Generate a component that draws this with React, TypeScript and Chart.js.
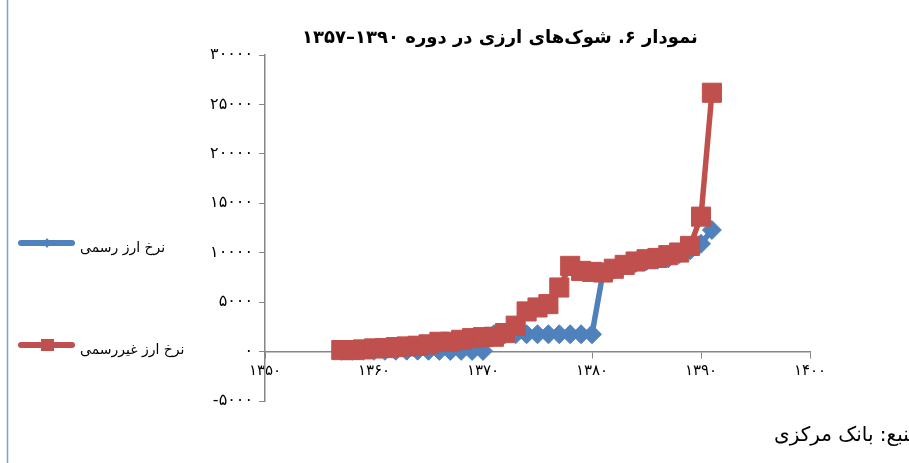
import { useEffect, useRef } from "react";
import { Chart, registerables } from "chart.js";

Chart.register(...registerables);

// ---- data ----
const years = [
  1357, 1358, 1359, 1360, 1361, 1362, 1363, 1364, 1365, 1366, 1367, 1368,
  1369, 1370, 1371, 1372, 1373, 1374, 1375, 1376, 1377, 1378, 1379, 1380,
  1381, 1382, 1383, 1384, 1385, 1386, 1387, 1388, 1389, 1390, 1391,
];
const officialRate = [
  71, 71, 71, 78, 84, 86, 90, 91, 79, 72, 69, 72, 68, 67, 1750, 1750, 1750,
  1750, 1750, 1750, 1750, 1750, 1750, 1750, 7950, 8280, 8720, 8960, 9170,
  9280, 9430, 9860, 10250, 10900, 12300,
];
const unofficialRate = [
  150, 150, 220, 320, 350, 450, 520, 590, 730, 990, 990, 1190, 1360, 1460,
  1500, 1870, 2620, 4060, 4460, 4800, 6480, 8670, 8160, 8060, 8000, 8380,
  8770, 9110, 9340, 9470, 9750, 10020, 10690, 13650, 26180,
];
const seriesLabels = ["نرخ ارز رسمی", "نرخ ارز غیررسمی"];
const xTickValues = [1350, 1360, 1370, 1380, 1390, 1400];
const xTickLabels = ["۱۳۵۰", "۱۳۶۰", "۱۳۷۰", "۱۳۸۰", "۱۳۹۰", "۱۴۰۰"];
const yTickValues = [-5000, 0, 5000, 10000, 15000, 20000, 25000, 30000];
const yTickLabels = ["-۵۰۰۰", "۰", "۵۰۰۰", "۱۰۰۰۰", "۱۵۰۰۰", "۲۰۰۰۰", "۲۵۰۰۰", "۳۰۰۰۰"];
const titleText = "نمودار ۶. شوک‌های ارزی در دوره ۱۳۹۰–۱۳۵۷";
const sourceText = "منبع: بانک مرکزی";

const BLUE = "#4f81bd";
const RED = "#c0504d";
const AXIS = "#868686";
const FONT = '"DejaVu Sans", sans-serif';

const decorPlugin = {
  id: "decor",
  afterDraw(chart: any) {
    const ctx = chart.ctx as CanvasRenderingContext2D;
    ctx.save();
    // frame line at left
    ctx.strokeStyle = "#7ea0d2";
    ctx.lineWidth = 1.5;
    ctx.beginPath();
    ctx.moveTo(7.5, 0);
    ctx.lineTo(7.5, 463);
    ctx.stroke();

    // title
    ctx.fillStyle = "#000";
    ctx.font = `bold 18px ${FONT}`;
    ctx.textAlign = "center";
    ctx.textBaseline = "middle";
    ctx.fillText(titleText, 500, 38);

    // legend
    const items = [
      { label: seriesLabels[0], color: BLUE, y: 243, style: "diamond" },
      { label: seriesLabels[1], color: RED, y: 345, style: "square" },
    ];
    items.forEach((it) => {
      ctx.strokeStyle = it.color;
      ctx.lineWidth = 6;
      ctx.lineCap = "round";
      ctx.beginPath();
      ctx.moveTo(21, it.y);
      ctx.lineTo(72, it.y);
      ctx.stroke();
      ctx.fillStyle = it.color;
      ctx.beginPath();
      if (it.style === "diamond") {
        ctx.moveTo(47, it.y - 5);
        ctx.lineTo(51, it.y);
        ctx.lineTo(47, it.y + 5);
        ctx.lineTo(43, it.y);
        ctx.closePath();
      } else {
        ctx.rect(41, it.y - 6, 13, 12);
      }
      ctx.fill();
      ctx.fillStyle = "#000";
      ctx.font = `14px ${FONT}`;
      ctx.textAlign = "left";
      ctx.textBaseline = "middle";
      ctx.fillText(it.label, 80, it.y + 5);
    });

    // source
    ctx.font = `20px ${FONT}`;
    ctx.textAlign = "right";
    ctx.textBaseline = "middle";
    ctx.fillText(sourceText, 920, 436);
    ctx.restore();
  },
};

export default function App() {
  const ref = useRef<HTMLCanvasElement | null>(null);

  useEffect(() => {
    if (!ref.current) return;
    const chart = new Chart(ref.current, {
      type: "line",
      data: {
        datasets: [
          {
            label: seriesLabels[0],
            data: years.map((y, i) => ({ x: y, y: officialRate[i] })),
            borderColor: BLUE,
            backgroundColor: BLUE,
            borderWidth: 5.5,
            pointStyle: "rectRot",
            pointRadius: 9.5,
            pointBorderWidth: 1,
            pointBackgroundColor: BLUE,
            pointBorderColor: BLUE,
            borderJoinStyle: "round",
            borderCapStyle: "round",
            tension: 0,
            order: 2,
          },
          {
            label: seriesLabels[1],
            data: years.map((y, i) => ({ x: y, y: unofficialRate[i] })),
            borderColor: RED,
            backgroundColor: RED,
            borderWidth: 5.5,
            pointStyle: "rect",
            pointRadius: 13.5,
            pointBorderWidth: 1,
            pointBackgroundColor: RED,
            pointBorderColor: RED,
            borderJoinStyle: "round",
            borderCapStyle: "round",
            tension: 0,
            order: 1,
          },
        ],
      },
      options: {
        animation: false,
        responsive: false,
        events: [],
        layout: { padding: { left: 0, right: 99, top: 55, bottom: 62 } },
        plugins: {
          legend: { display: false },
          title: { display: false },
          tooltip: { enabled: false },
        },
        scales: {
          x: {
            type: "linear",
            min: 1350,
            max: 1400,
            position: { y: 0 },
            afterBuildTicks: (s: any) => {
              s.ticks = xTickValues.map((v) => ({ value: v }));
            },
            ticks: {
              autoSkip: false,
              maxRotation: 0,
              padding: 5,
              color: "#000",
              font: { family: FONT, size: 15 },
              callback: (v: any) => xTickLabels[xTickValues.indexOf(Number(v))],
            },
            grid: {
              drawOnChartArea: false,
              drawTicks: true,
              tickLength: 6,
              color: AXIS,
              lineWidth: 1,
            },
            border: { color: AXIS, width: 1.5 },
          },
          y: {
            type: "linear",
            min: -5000,
            max: 30000,
            afterBuildTicks: (s: any) => {
              s.ticks = yTickValues.map((v) => ({ value: v }));
            },
            afterFit: (s: any) => {
              s.width = 265;
            },
            ticks: {
              autoSkip: false,
              padding: 6,
              color: "#000",
              font: { family: FONT, size: 16 },
              callback: (v: any) => yTickLabels[yTickValues.indexOf(Number(v))],
            },
            grid: {
              drawOnChartArea: false,
              drawTicks: true,
              tickLength: 6,
              color: AXIS,
              lineWidth: 1,
            },
            border: { color: AXIS, width: 1.5 },
          },
        },
      },
      plugins: [decorPlugin],
    } as any);
    return () => chart.destroy();
  }, []);

  return (
    <div style={{ position: "fixed", left: 0, top: 0, width: 909, height: 463, background: "#fff" }}>
      <canvas ref={ref} width={909} height={463} style={{ display: "block", width: 909, height: 463 }} />
    </div>
  );
}
